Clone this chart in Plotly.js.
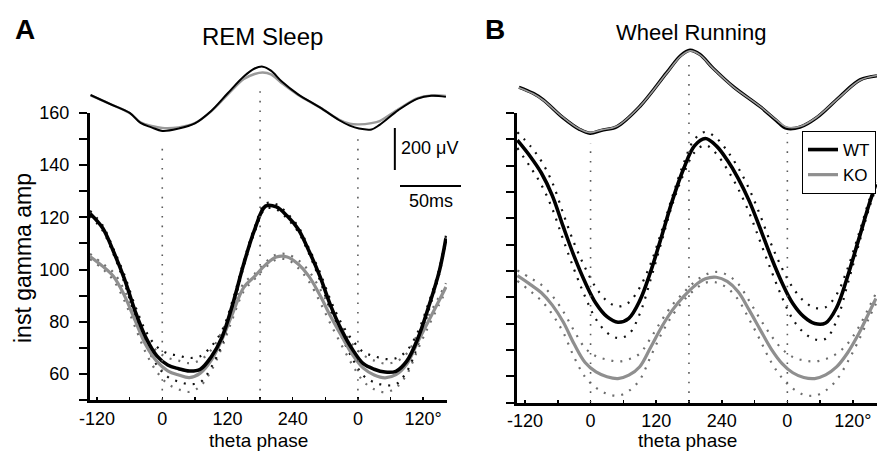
<!DOCTYPE html>
<html><head><meta charset="utf-8">
<script src="https://cdn.plot.ly/plotly-3.0.1.min.js"></script>
<style>html,body{margin:0;padding:0;background:#fff}#chart{width:880px;height:451px}</style>
</head><body><div id="chart"></div>
<script>
// ---------- data ----------
// Panel A: REM sleep, instantaneous gamma amplitude vs theta phase
const phaseA = [-133,-110,-90,-70,-50,-30,-10,10,30,50,70,90,110,130,150,170,190,210,230,250,270,290,310,330,350,370,390,410,430,450,470,490,510,522];
const wtA    = [121.5,116,107,96.6,84.1,73.8,66.9,63.4,62,61.1,61.8,66.5,74.1,87,102.2,115.3,124.3,124,120.5,115.5,107.1,97.5,86.1,76.8,69.4,63.9,61.8,60.7,61,64.9,73.4,85.6,99.5,112];
const semWtA = [1,1,1,1.5,2,2.5,3.5,4.5,5,5,5,4,2.5,1.5,1,1,1,1,1,1,1,1.5,2,2.5,3.5,4.5,5,5,5,4,2.5,1.5,1,1];
const koA    = [105,101.3,97.4,90.2,80.5,71,64.8,61.2,59.6,58.6,60.3,65.2,73.3,83.5,93.2,97.4,101.8,104.8,104.8,102.1,97.4,90.2,82,74.5,67.4,62.2,59.6,58.5,59.7,63.8,72.2,80.3,88.3,93.3];
const semKoA = [1,1,1.5,2,2.5,3,4,5,5.5,5.5,5,4,3,2,1.5,1,1,1,1,1.5,2,2.5,3,3.5,4,5,5.5,5.5,5,4,3,2,1.5,1.5];

// Panel B: wheel running
const phaseB = [-134,-110,-90,-70,-50,-30,-10,10,30,50,70,90,110,130,150,170,190,210,230,250,270,290,310,330,350,370,390,410,430,450,470,490,510,522];
const wtB    = [149.7,143.4,137.2,128.6,116.8,105.5,95.7,87.6,82.6,80.5,82,88.7,99.8,113.2,127,138.7,147.5,150.3,147.5,142.1,135.2,126.7,116.3,105.4,95.6,87.6,82.6,80,80.2,86,97.8,111.6,125.6,133];
const semWtB = [3,4,4.5,5,5,5,5.5,6,6,6,6,5,3,2,1.5,2,2.5,2.5,3,3.5,4,4.5,5,5,5.5,6,6,6,6,5,3,2,1.5,1.5];
const koB    = [98.2,94.8,91.7,87,80.6,72.2,65.2,61.6,59.8,59.1,60.4,63.6,71,78.7,85.2,90.2,94.3,97,97.6,96,92.1,85.2,77.8,70.5,64.9,61.3,59.5,59.1,60.5,63.5,68.8,75.9,84.4,89.5];
const semKoB = [2,2.5,3,3.5,4,5,5.5,6,6.5,6.5,6,5,3.5,2.5,2,1.5,1.5,1.5,2,2.5,3,3.5,4,5,5.5,6,6.5,6.5,6,5,3.5,2.5,2,2];

// Averaged theta LFP traces (µV, arbitrary offset)
const lfpPhaseA = [-132,-95,-60,-40,-20,0,30,60,90,120,150,170,185,200,220,250,290,325,345,362,385,400,435,470,495,522];
const lfpWtA    = [152,108,67,19,-2,-19,-8,17,76,159,240,278,287,268,216,155,93,33,6,-8,-12,10,81,135,148,143];
const lfpKoA    = [150,108,66,22,5,-5,-2,18,74,152,228,252,259,250,208,152,93,35,15,12,18,28,85,137,150,148];
const lfpPhaseB = [-131,-105,-86.5,-50,-20,-1,20,48,90,139,165,182,200,224,261,310,340,358,383,413,456,493,524];
const lfpWtB    = [189,160,129,43,-12,-30,-16,1,97,257,340,365,345,280,192,97,30,-6,-1,43,144,224,243];
const lfpKoB    = [187,158,127,45,-10,-27,-14,3,97,255,337,362,343,279,191,98,33,0,2,45,143,222,245];

// Theta-phase guides (trough / peak / trough) and where they stop under the LFP
const cyclePhases = [0,180,360];
const guideTopA = [-71,205,-29];
const guideTopB = [-76,305,-29];

// Ticks
const xTickVals = [-120,-60,0,60,120,180,240,300,360,420,480];
const xTickText = ['-120','','0','','120','','240','','0','','120°'];
const yTickVals = [50,60,70,80,90,100,110,120,130,140,150,160];
const yTickText = ['','60','','80','','100','','120','','140','','160'];
const scaleBarUV = 200;

// ---------- build ----------
const FONT = 'Liberation Sans, Arial, Helvetica, sans-serif';
const lfpRangeA = [-1300, 390];
const lfpRangeB = [-1312, 390];

function addAdd(a, b, s){ return a.map((v,i)=>v + s*b[i]); }

function panelTraces(xa, ya, ly, phase, wt, semWt, ko, semKo, lfpPh, lfpWt, lfpKo, guideTop, lfpRange, legend, koOnTop){
  const t = [];
  const env = (y, color) => ({x: phase, y: y, xaxis: xa, yaxis: ya, mode: 'lines', showlegend: false,
    hoverinfo: 'skip', line: {color: color, width: 2.2, dash: '2px,7px', shape: 'spline', smoothing: 1}});
  t.push(env(addAdd(ko, semKo, 1), '#6e6e6e'));
  t.push(env(addAdd(ko, semKo, -1), '#6e6e6e'));
  t.push(env(addAdd(wt, semWt, 1), '#111'));
  t.push(env(addAdd(wt, semWt, -1), '#111'));
  t.push({x: phase, y: ko, xaxis: xa, yaxis: ya, mode: 'lines', name: 'KO', legendrank: 2,
    showlegend: legend, line: {color: '#8f8f8f', width: 3.2, shape: 'spline', smoothing: 1}});
  t.push({x: phase, y: wt, xaxis: xa, yaxis: ya, mode: 'lines', name: 'WT', legendrank: 1,
    showlegend: legend, line: {color: '#000', width: 3.6, shape: 'spline', smoothing: 1}});
  // guides
  const gx = [], gy = [];
  cyclePhases.forEach((p,i)=>{ gx.push(p,p,null); gy.push(lfpRange[0], guideTop[i], null); });
  t.push({x: gx, y: gy, xaxis: xa, yaxis: ly, mode: 'lines', showlegend: false, hoverinfo: 'skip',
    line: {color: '#5a5a5a', width: 1.6, dash: '1.6px,8px'}});
  // LFP
  const lfpKoTrace = {x: lfpPh, y: lfpKo, xaxis: xa, yaxis: ly, mode: 'lines', showlegend: false,
    line: {color: '#9a9a9a', width: koOnTop ? 1.6 : 2.4, shape: 'spline', smoothing: 1}};
  const lfpWtTrace = {x: lfpPh, y: lfpWt, xaxis: xa, yaxis: ly, mode: 'lines', showlegend: false,
    line: {color: '#000', width: koOnTop ? 3.4 : 2, shape: 'spline', smoothing: 1}};
  if (koOnTop) { t.push(lfpWtTrace, lfpKoTrace); } else { t.push(lfpKoTrace, lfpWtTrace); }
  return t;
}

const data = [].concat(
  panelTraces('x','y','y3', phaseA, wtA, semWtA, koA, semKoA, lfpPhaseA, lfpWtA, lfpKoA, guideTopA, lfpRangeA, false, false),
  panelTraces('x2','y2','y4', phaseB, wtB, semWtB, koB, semKoB, lfpPhaseB, lfpWtB, lfpKoB, guideTopB, lfpRangeB, true, true)
);

const xBase = {tickmode: 'array', tickvals: xTickVals, ticktext: xTickText, ticks: 'inside', ticklen: 3,
  tickwidth: 1.5, tickcolor: '#000', showline: true, linewidth: 3, linecolor: '#000', showgrid: false,
  zeroline: false, tickfont: {family: FONT, size: 18, color: '#000'}, fixedrange: true};
const yBase = {tickmode: 'array', tickvals: yTickVals, ticktext: yTickText, ticks: 'outside', ticklen: 8,
  tickwidth: 2, tickcolor: '#000', showline: true, linewidth: 3, linecolor: '#000', showgrid: false,
  zeroline: false, tickfont: {family: FONT, size: 18, color: '#000'}, range: [50,160], fixedrange: true,
  ticklabelstandoff: 6};

const P = (px)=> px/880, Q = (py)=> (451-py)/451;
const ann = (text, px, py, size, extra) => Object.assign({text: text, xref: 'paper', yref: 'paper',
  x: P(px), y: Q(py), xanchor: 'center', yanchor: 'middle', showarrow: false, font: {size: size}}, extra || {});

const layout = {
  width: 880, height: 451,
  margin: {l: 0, r: 0, t: 0, b: 0, autoexpand: false},
  paper_bgcolor: '#fff', plot_bgcolor: 'rgba(0,0,0,0)',
  font: {family: FONT, color: '#000'},
  xaxis: Object.assign({}, xBase, {domain: [P(90), P(447)], range: [-133, 524], anchor: 'y'}),
  yaxis: Object.assign({}, yBase, {domain: [Q(400), Q(113)], anchor: 'x'}),
  xaxis2: Object.assign({}, xBase, {domain: [P(517), P(877)], range: [-134.6, 524], anchor: 'y2'}),
  yaxis2: Object.assign({}, yBase, {domain: [Q(402.5), Q(113)], anchor: 'x2', showticklabels: false}),
  yaxis3: {domain: [Q(400), Q(45)], range: lfpRangeA, anchor: 'x', visible: false, fixedrange: true},
  yaxis4: {domain: [Q(402.5), Q(45)], range: lfpRangeB, anchor: 'x2', visible: false, fixedrange: true},
  showlegend: true,
  legend: {x: P(802), y: Q(131), xanchor: 'left', yanchor: 'top', bgcolor: '#fff', bordercolor: '#000',
    borderwidth: 1, font: {family: FONT, size: 17, color: '#000'}, tracegroupgap: 0, itemwidth: 30},
  shapes: [
    {type: 'line', xref: 'x', yref: 'y3', x0: 428, x1: 428, y0: -205, y1: -205 + scaleBarUV,
      line: {color: '#000', width: 2}},
    {type: 'line', xref: 'paper', yref: 'paper', x0: P(400), x1: P(461), y0: Q(186), y1: Q(186),
      line: {color: '#000', width: 2}}
  ],
  annotations: [
    ann('<b>A</b>', 25, 29, 28),
    ann('<b>B</b>', 495, 29, 28),
    ann('REM Sleep', 262, 36, 24),
    ann('Wheel Running', 691, 33, 22),
    ann('theta phase', 258, 440, 19),
    ann('theta phase', 687, 440, 19),
    ann('inst gamma amp', 23, 258, 23, {textangle: -90}),
    ann('200 μV', 399, 148, 18, {xanchor: 'left'}),
    ann('50ms', 431, 201, 18)
  ]
};

Plotly.newPlot('chart', data, layout, {staticPlot: true, displayModeBar: false});
</script>
</body></html>
